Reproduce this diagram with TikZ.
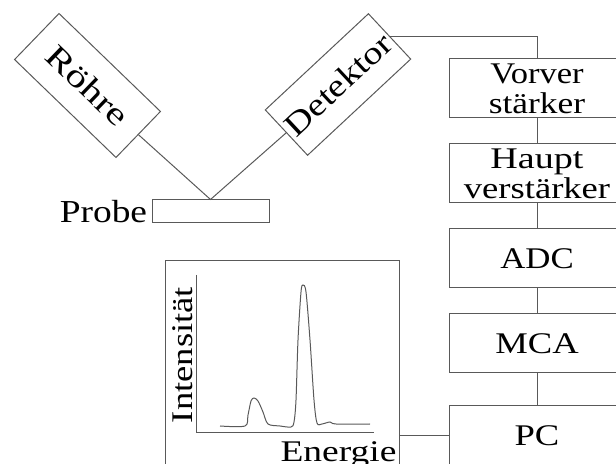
\documentclass[tikz,border=0pt]{standalone}
\usepackage{fontspec}
\setmainfont{Liberation Serif}
\usepackage{graphicx}
\usetikzlibrary{positioning}

% text is set a little wide in the original
\newcommand{\wide}[2][1.22]{\scalebox{#1}[1]{#2}}

\tikzset{
  part/.style={draw=black!65, line width=0.5pt, inner sep=0pt,
    font=\fontsize{15}{15}\selectfont},
  tube/.style={part, minimum width=70.5pt, minimum height=32pt,
    font=\fontsize{16}{16}\selectfont},
  unit/.style={part, minimum width=88pt, minimum height=29.5pt, align=center},
  txt/.style={inner sep=0pt, font=\fontsize{15}{15}\selectfont},
  wire/.style={draw=black!65, line width=0.5pt}
}

\begin{document}
\begin{tikzpicture}[x=0.5pt, y=-0.5pt]
        \useasboundingbox (0,0) rectangle (616,464);

        % 1. Tube, detector and sample
        \node[tube, rotate=-44] (roehre) at (87.5,85.5) {\wide[1.3]{Röhre}};
        \node[tube, rotate=43, minimum height=31pt] (det) at (338,84.5) {\wide[1.2]{Detektor}};
        \node[part, minimum width=58.5pt, minimum height=11.5pt] (probe) at (210.5,211.5) {};
        \node[txt, font=\fontsize{16}{16}\selectfont, left=2pt of probe] (probetext) {\wide[1.17]{Probe}};

        % 2. Electronics chain (right column)
        \node[unit] (vor) at (537,88.5) {\wide[1.15]{Vorver}\\\wide[1.18]{stärker}};
        \node[unit, below=12.5pt of vor] (haupt) {\wide[1.27]{Haupt}\\\wide{verstärker}};
        \node[unit, below=12.5pt of haupt] (adc) {\wide[1.16]{ADC}};
        \node[unit, below=12.5pt of adc] (mca) {\wide{MCA}};
        \node[unit, below=16pt of mca] (pc) {\wide{PC}};

        % 3. Spectrum window
        \node[part, minimum width=117pt, minimum height=109.5pt] (spec) at (282,370.5) {};
        \coordinate (ytop) at (196,275);   % top of intensity axis
        \coordinate (orig) at (196,433);   % origin
        \coordinate (xend) at (374,433);   % end of energy axis
        \draw[wire] (ytop) -- (orig) -- (xend);

        % the measured spectrum: small and big peak
        \draw[wire] plot[smooth, tension=0.5] coordinates {
            (220,426) (245,426) (248,415) (251,401) (254,398) (258,401)
            (263,412) (268,424) (280,426) (291,427) (294,422) (296,400)
            (298,340) (301,292) (303,285) (306,292) (310,340) (314,400)
            (317,423) (322,424) (330,422) (336,424) (370,424)};

        \node[txt, rotate=90] (inten) at (183,355) {\wide{Intensität}};
        \node[txt, anchor=base] (energie) at (338.5,462) {\wide[1.25]{Energie}};

        % 4. Connections
        \draw[wire] (roehre.east) -- (probe.north) -- (det.west);
        \draw[wire] (det.east) -| (vor.north);
        \foreach \a/\b in {vor/haupt, haupt/adc, adc/mca, mca/pc}
            \draw[wire] (\a) -- (\b);
        \draw[wire] (pc.west) -- (pc.west -| spec.east);

\end{tikzpicture}
\end{document}
